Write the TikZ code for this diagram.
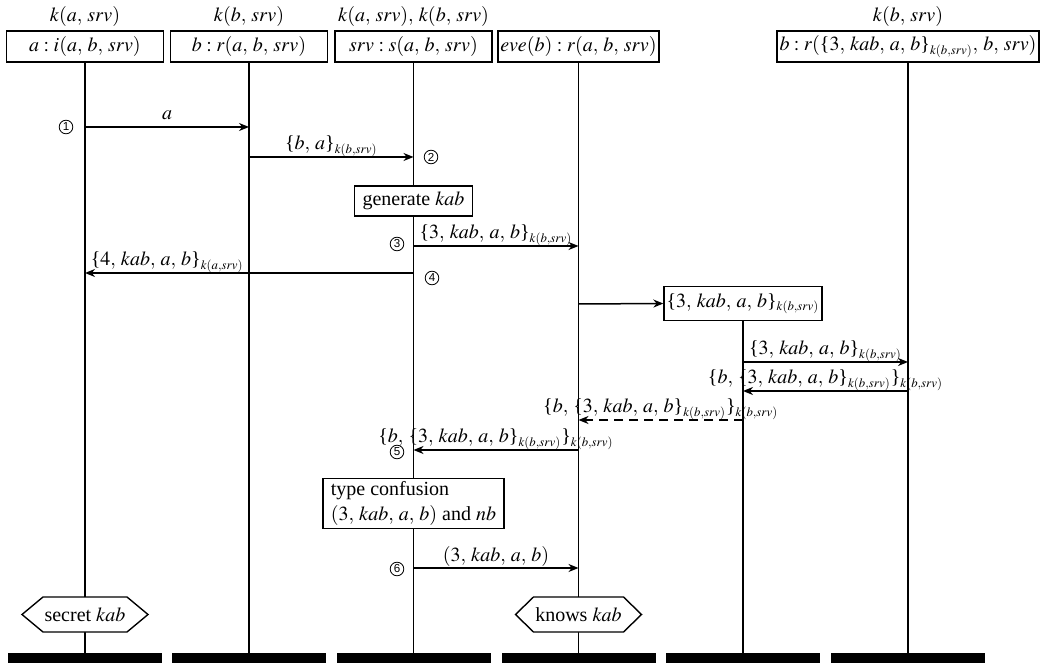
\documentclass[tikz,border=0pt]{standalone}
\usepackage{mathptmx}
\usepackage[no-math]{fontspec}
\setmainfont{Liberation Serif}
\newfontfamily\numfont{Liberation Sans}
\usetikzlibrary{arrows.meta,calc}
\DeclareMathSizes{10}{10}{6.4}{5}
\newcommand{\lbr}{\mathopen{\textnormal{\{}}}
\newcommand{\rbr}{\mathclose{\textnormal{\}}}}
\thinmuskip=4.5mu
\begin{document}
\begin{tikzpicture}[x=0.5pt,y=-0.5pt,
  every node/.style={font=\fontsize{10}{12.5}\selectfont},
  hdr/.style={draw, line width=0.85pt, minimum width=78.5pt, minimum height=15.5pt, inner xsep=1.2pt, inner ysep=0pt},
  toplbl/.style={anchor=base, yshift=4.2pt, inner sep=0pt},
  bar/.style={fill=black, draw=none, minimum width=77pt, minimum height=5pt, inner sep=0pt},
  life/.style={line width=0.65pt},
  msg/.style={line width=0.75pt, -{Stealth[length=5pt,width=4pt,inset=1.6pt]}},
  lbl/.style={anchor=base, yshift=3.5pt, inner sep=0pt},
  num/.style={circle, draw, line width=0.4pt, minimum size=6.8pt, inner sep=0pt, font=\numfont\fontsize{5.8}{6}\selectfont},
  actbox/.style={draw, fill=white, line width=0.85pt},
  hexa/.style={draw, fill=white, line width=0.7pt}
]
\useasboundingbox (0,0) rectangle (1040,663);
\fill[white] (0,0) rectangle (1040,663);

% header boxes
\node[hdr] (h1) at (85,46.5) {$a : i(a, b, srv)$};
\node[hdr] (h2) at (249,46.5) {$b : r(a, b, srv)$};
\node[hdr] (h3) at (413.5,46.5) {$srv : s(a, b, srv)$};
\node[hdr] (h4) at (578.5,46.5) {$eve(b) : r(a, b, srv)$};
\node[hdr] (h6) at (908,46.5) {$b : r(\lbr 3, kab, a, b\rbr_{k(b,srv)}, b, srv)$};

\node[toplbl] (t1) at (h1.north) {$k(a, srv)$};
\node[toplbl] (t2) at (h2.north) {$k(b, srv)$};
\node[toplbl] (t3) at (h3.north) {$k(a, srv), k(b, srv)$};
\node[toplbl] (t6) at (h6.north) {$k(b, srv)$};

% bars
\node[bar] (bar1) at (85,658) {};
\node[bar] (bar2) at (249,658) {};
\node[bar] (bar3) at (413.5,658) {};
\node[bar] (bar4) at (578.5,658) {};
\node[bar] (bar5) at (743,658) {};
\node[bar] (bar6) at (908,658) {};

% intercepted message box
\node[actbox, inner xsep=1.2pt, minimum height=15.5pt] (mbox) at (743,303.5) {$\lbr 3, kab, a, b\rbr_{k(b,srv)}$};

% lifelines
\draw[life] (h1) -- (bar1);
\draw[life] (h2) -- (bar2);
\draw[life] (h3) -- (bar3);
\draw[life] (h4) -- (bar4);
\draw[life] (mbox) -- (bar5);
\draw[life] (h6) -- (bar6);

% action boxes
\node[actbox, inner xsep=4pt, inner ysep=0pt, minimum height=15pt] (gen) at (413.5,201) {generate $kab$};
\node[actbox, align=left, inner xsep=4pt, inner ysep=1.5pt, minimum height=23.5pt] (tc) at (413.5,503.5) {type confusion\\$(3, kab, a, b)$ and $nb$};

% message end points
\coordinate (m1s) at (85,127);   \coordinate (m1e) at (249,127);
\coordinate (m2s) at (249,157);  \coordinate (m2e) at (413.5,157);
\coordinate (m3s) at (413.5,246); \coordinate (m3e) at (578.5,246);
\coordinate (m4s) at (413.5,273); \coordinate (m4e) at (85,273);
\coordinate (m5s) at (578.5,304);
\coordinate (m6s) at (743,362);  \coordinate (m6e) at (908,362);
\coordinate (m7s) at (908,391);  \coordinate (m7e) at (743,391);
\coordinate (m8s) at (743,420);  \coordinate (m8e) at (578.5,420);
\coordinate (m9s) at (578.5,450); \coordinate (m9e) at (413.5,450);
\coordinate (m10s) at (413.5,568); \coordinate (m10e) at (578.5,568);

\draw[msg] (m1s) -- node[lbl] (l1) {$a$} (m1e);
\draw[msg] (m2s) -- node[lbl] (l2) {$\lbr b, a\rbr_{k(b,srv)}$} (m2e);
\draw[msg] (m3s) -- node[lbl] (l3) {$\lbr 3, kab, a, b\rbr_{k(b,srv)}$} (m3e);
\draw[msg] (m4s) -- (m4e) node[pos=1, anchor=base west, xshift=2.5pt, yshift=3.5pt, inner sep=0pt] (l4) {$\lbr 4, kab, a, b\rbr_{k(a,srv)}$};
\draw[msg] (m5s) -- (mbox.west);
\draw[msg] (m6s) -- node[lbl] (l6) {$\lbr 3, kab, a, b\rbr_{k(b,srv)}$} (m6e);
\draw[msg] (m7s) -- node[lbl] (l7) {$\lbr b, \lbr 3, kab, a, b\rbr_{k(b,srv)}\rbr_{k(b,srv)}$} (m7e);
\draw[msg, dash pattern=on 4.5pt off 3pt] (m8s) -- node[lbl] (l8) {$\lbr b, \lbr 3, kab, a, b\rbr_{k(b,srv)}\rbr_{k(b,srv)}$} (m8e);
\draw[msg] (m9s) -- node[lbl] (l9) {$\lbr b, \lbr 3, kab, a, b\rbr_{k(b,srv)}\rbr_{k(b,srv)}$} (m9e);
\draw[msg] (m10s) -- node[lbl] (l10) {$(3, kab, a, b)$} (m10e);

% step numbers
\node[num] (n1) at (66,127) {1};
\node[num] (n2) at (431,157) {2};
\node[num] (n3) at (397,244) {3};
\node[num] (n4) at (432,278) {4};
\node[num] (n5) at (397,452) {5};
\node[num] (n6) at (397,569) {6};

% hexagons
\path[hexa] (22,614.5) -- (43,597) -- (127,597) -- (148,614.5) -- (127,632) -- (43,632) -- cycle
  node[inner sep=0pt] (x1) at (85,614.5) {secret $kab$};
\path[hexa] (515.5,614.5) -- (533.5,597) -- (623.5,597) -- (641.5,614.5) -- (623.5,632) -- (533.5,632) -- cycle
  node[inner sep=0pt] (x2) at (578.5,614.5) {knows $kab$};
\end{tikzpicture}
\end{document}
